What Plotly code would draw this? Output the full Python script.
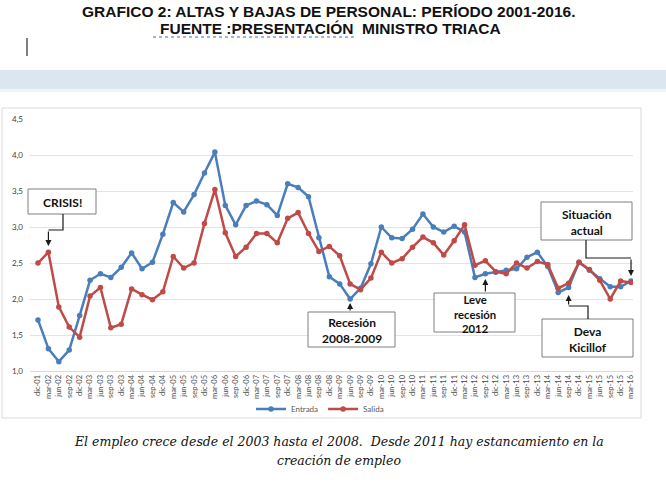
import plotly.graph_objects as go

W, H = 666, 498

categories = [
    "dic-01",
    "mar-02", "jun-02", "sep-02", "dic-02",
    "mar-03", "jun-03", "sep-03", "dic-03",
    "mar-04", "jun-04", "sep-04", "dic-04",
    "mar-05", "jun-05", "sep-05", "dic-05",
    "mar-06", "jun-06", "sep-06", "dic-06",
    "mar-07", "jun-07", "sep-07", "dic-07",
    "mar-08", "jun-08", "sep-08", "dic-08",
    "mar-09", "jun-09", "sep-09", "dic-09",
    "mar-10", "jun-10", "sep-10", "dic-10",
    "mar-11", "jun-11", "sep-11", "dic-11",
    "mar-12", "jun-12", "sep-12", "dic-12",
    "mar-13", "jun-13", "sep-13", "dic-13",
    "mar-14", "jun-14", "sep-14", "dic-14",
    "mar-15", "jun-15", "sep-15", "dic-15",
    "mar-16",
]

entrada = [
    1.71,
    1.31, 1.13, 1.29, 1.77,
    2.26, 2.35, 2.30, 2.44,
    2.64, 2.42, 2.51, 2.90,
    3.34, 3.21, 3.45, 3.75,
    4.04, 3.30, 3.03, 3.30,
    3.36, 3.31, 3.16, 3.60,
    3.55, 3.42, 2.85, 2.31,
    2.21, 2.00, 2.15, 2.49,
    3.00, 2.85, 2.84, 2.97,
    3.18, 3.00, 2.93, 3.01,
    2.93, 2.30, 2.35, 2.37,
    2.40, 2.42, 2.58, 2.65,
    2.45, 2.09, 2.16, 2.51,
    2.40, 2.28, 2.17, 2.17,
    2.25,
]

salida = [
    2.50,
    2.65, 1.89, 1.61, 1.47,
    2.04, 2.16, 1.60, 1.65,
    2.14, 2.06, 1.99, 2.10,
    2.59, 2.43, 2.50, 3.05,
    3.52, 2.92, 2.59, 2.72,
    2.91, 2.91, 2.78, 3.12,
    3.20, 2.91, 2.66, 2.73,
    2.60, 2.21, 2.13, 2.29,
    2.65, 2.50, 2.56, 2.72,
    2.86, 2.78, 2.61, 2.81,
    3.03, 2.47, 2.53, 2.38,
    2.35, 2.50, 2.43, 2.52,
    2.48, 2.15, 2.22, 2.51,
    2.41, 2.26, 2.00, 2.25,
    2.23,
]

y_ticks = [1.0, 1.5, 2.0, 2.5, 3.0, 3.5, 4.0, 4.5]

title_lines = [
    "GRAFICO 2: ALTAS Y BAJAS DE PERSONAL: PERÍODO 2001-2016.",
    "FUENTE :PRESENTACIÓN  MINISTRO TRIACA",
]
caption_lines = [
    "El empleo crece desde el 2003 hasta el 2008.  Desde 2011 hay estancamiento en la",
    "creación de empleo",
]

BLUE = "#4a7ebb"
RED = "#be4b48"

# plot area in pixels
PL, PR, PT, PB = 30, 633, 119, 371
X_RANGE = [-0.77, 57.19]
Y_RANGE = [1.0, 4.5]


def fx(px):
    return px / W


def fy(py):
    return 1 - py / H


def data_px_x(i):
    return PL + (i - X_RANGE[0]) / (X_RANGE[1] - X_RANGE[0]) * (PR - PL)


def data_px_y(v):
    return PB - (v - Y_RANGE[0]) / (Y_RANGE[1] - Y_RANGE[0]) * (PB - PT)


fig = go.Figure()
fig.add_trace(go.Scatter(
    x=categories, y=entrada, name="Entrada", mode="lines+markers",
    line=dict(color=BLUE, width=2.5), marker=dict(size=5.5, color=BLUE),
))
fig.add_trace(go.Scatter(
    x=categories, y=salida, name="Salida", mode="lines+markers",
    line=dict(color=RED, width=2.5), marker=dict(size=5.5, color=RED),
))

shapes = []
annotations = []


def label(px, py, text, font, align="center"):
    annotations.append(dict(xref="paper", yref="paper", x=fx(px), y=fy(py),
                            xanchor="center", yanchor="middle", text=text,
                            showarrow=False, font=font, align=align))


# page decoration
shapes.append(dict(type="rect", xref="paper", yref="paper",
                   x0=0, x1=1, y0=fy(89), y1=fy(70),
                   fillcolor="#dce6f0", line=dict(width=0), layer="below"))
shapes.append(dict(type="rect", xref="paper", yref="paper",
                   x0=0, x1=1, y0=fy(92), y1=fy(89),
                   fillcolor="#eef3f8", line=dict(width=0), layer="below"))
shapes.append(dict(type="line", xref="paper", yref="paper",
                   x0=fx(27), x1=fx(27), y0=fy(56), y1=fy(38),
                   line=dict(color="black", width=1)))
shapes.append(dict(type="line", xref="paper", yref="paper",
                   x0=fx(153), x1=fx(356), y0=fy(37), y1=fy(37),
                   line=dict(color="#4b63d6", width=1, dash="dot")))
# chart frame
shapes.append(dict(type="rect", xref="paper", yref="paper",
                   x0=fx(2), x1=fx(641), y0=fy(418), y1=fy(108),
                   line=dict(color="#d9d9d9", width=1), layer="below"))

TITLE_FONT = dict(family="Liberation Sans", size=15.5, color="#111111")
CAP_FONT = dict(family="DejaVu Serif", size=12.5, color="#111111")
label(329, 12, "<b>" + title_lines[0] + "</b>", TITLE_FONT)
label(330, 28, "<b>" + title_lines[1] + "</b>", TITLE_FONT)
label(339, 441, "<i>" + caption_lines[0] + "</i>", CAP_FONT)
label(339, 460, "<i>" + caption_lines[1] + "</i>", CAP_FONT)

BOX_LINE = dict(color="#7f7f7f", width=1)


def callout(x0, y0, x1, y1, text, size=12):
    shapes.append(dict(type="rect", xref="paper", yref="paper",
                       x0=fx(x0), x1=fx(x1), y0=fy(y1), y1=fy(y0),
                       fillcolor="white", line=BOX_LINE))
    label((x0 + x1) / 2, (y0 + y1) / 2 + 1, "<b>" + text + "</b>",
          dict(family="Lato", size=size, color="#111111"))


def path(points):
    d = "M " + " L ".join(f"{fx(px)} {fy(py)}" for px, py in points)
    shapes.append(dict(type="path", xref="paper", yref="paper", path=d,
                       line=dict(color="#1a1a1a", width=1.2)))


def arrow(i, series, tail_py, tip_py):
    v = series[i]
    py = data_px_y(v)
    annotations.append(dict(xref="x", yref="y", x=categories[i], y=v, text="",
                            showarrow=True, ax=0, ay=tail_py - py,
                            standoff=abs(py - tip_py), arrowhead=2, arrowsize=1,
                            arrowwidth=1.2, arrowcolor="#1a1a1a"))


# CRISIS!
i_crisis = categories.index("mar-02")
callout(28, 189, 96, 214, "CRISIS!")
xa = data_px_x(i_crisis)
path([(63, 214), (63, 230), (xa, 230)])
arrow(i_crisis, salida, 230, 246)

# Recesión 2008-2009
i_rec = categories.index("jun-09")
callout(308, 312, 395, 347, "Recesión<br>2008-2009")
arrow(i_rec, entrada, 312, 303)

# Leve recesión 2012
i_leve = categories.index("sep-12")
callout(434, 293, 515, 332, "Leve<br>recesión<br>2012", size=11.3)
arrow(i_leve, entrada, 293, 279)

# Situación actual
i_act = categories.index("mar-16")
callout(541, 202, 632, 240, "Situación<br>actual")
xa = data_px_x(i_act)
path([(586, 240), (586, 258), (xa, 258)])
arrow(i_act, entrada, 258, 276)

# Deva Kicillof
i_deva = categories.index("sep-14")
callout(542, 319, 633, 357, "Deva<br>Kicillof")
xa = data_px_x(i_deva)
path([(588, 319), (588, 306), (xa, 306)])
arrow(i_deva, entrada, 306, 295)

fig.update_layout(
    width=W, height=H,
    margin=dict(l=0, r=0, t=0, b=0, autoexpand=False),
    paper_bgcolor="white", plot_bgcolor="white",
    separators=",.",
    showlegend=True,
    legend=dict(orientation="h", x=fx(320), xanchor="center", y=fy(409),
                yanchor="middle", font=dict(family="Lato", size=8, color="#595959"),
                bgcolor="rgba(0,0,0,0)", itemwidth=30),
    xaxis=dict(domain=[fx(PL), fx(PR)], type="category", range=X_RANGE,
               categoryorder="array", categoryarray=categories,
               tickangle=-90, tickfont=dict(family="Lato", size=7.5, color="#4d4d4d"),
               showgrid=False, showline=True, linecolor="#d9d9d9", ticks="",
               zeroline=False, fixedrange=True),
    yaxis=dict(domain=[fy(PB), fy(PT)], range=Y_RANGE, tickvals=y_ticks,
               tickformat=".1f", showgrid=True, gridcolor="#e3e3e3", gridwidth=1,
               zeroline=False, ticks="", ticklabelstandoff=6,
               tickfont=dict(family="Lato", size=8, color="#404040")),
    shapes=shapes,
    annotations=annotations,
)

fig.write_html("out.html", config={"displayModeBar": False},
               post_script="document.body.style.margin='0';document.body.style.overflow='hidden';")
